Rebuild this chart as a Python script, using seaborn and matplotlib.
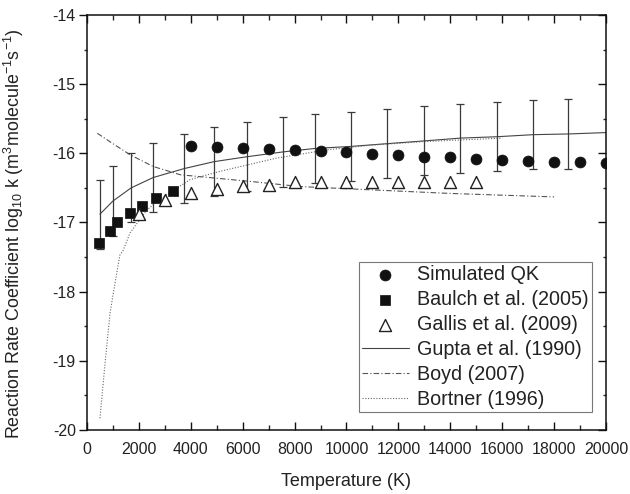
import numpy as np
import pandas as pd
import matplotlib
matplotlib.use("Agg")
import matplotlib.pyplot as plt
from matplotlib.ticker import MultipleLocator
import seaborn as sns

# --- data: temperature (K) and log10 of the reaction rate coefficient ---
qk_T = [4000, 5000, 6000, 7000, 8000, 9000, 10000, 11000, 12000, 13000,
        14000, 15000, 16000, 17000, 18000, 19000, 20000]
qk_logk = [-15.90, -15.91, -15.93, -15.94, -15.95, -15.97, -15.98, -16.01, -16.03,
           -16.05, -16.06, -16.08, -16.10, -16.11, -16.12, -16.13, -16.14]

baulch_T = [480, 890, 1170, 1660, 2120, 2650, 3330]
baulch_logk = [-17.30, -17.12, -17.00, -16.86, -16.76, -16.64, -16.54]

gallis_T = [2000, 3000, 4000, 5000, 6000, 7000, 8000, 9000, 10000, 11000,
            12000, 13000, 14000, 15000]
gallis_logk = [-16.88, -16.67, -16.58, -16.52, -16.47, -16.46, -16.42, -16.42,
               -16.42, -16.41, -16.41, -16.41, -16.41, -16.41]

gupta_T = [500, 1000, 1700, 2550, 3750, 4900, 6150, 7540, 8770, 10170,
           11570, 13000, 14380, 15790, 17200, 18520, 20000]
gupta_logk = [-16.88, -16.69, -16.50, -16.35, -16.22, -16.12, -16.05, -15.98,
              -15.93, -15.90, -15.86, -15.82, -15.78, -15.76, -15.73, -15.72, -15.70]
gupta_err = [0.5] * 16 + [0.0]

boyd_T = [400, 1000, 1660, 2550, 3600, 5000, 6400, 8200, 10500, 14000, 18000]
boyd_logk = [-15.71, -15.86, -16.02, -16.19, -16.31, -16.36, -16.41, -16.48,
             -16.52, -16.58, -16.63]

bortner_T = [500, 700, 890, 1080, 1270, 1400, 1660, 2300, 2940, 3970, 5130,
             6150, 7300, 9230, 11000, 13000, 16000]
bortner_logk = [-19.83, -19.03, -18.31, -17.88, -17.47, -17.40, -17.15, -16.82,
                -16.63, -16.38, -16.26, -16.17, -16.07, -15.95, -15.88, -15.83, -15.78]

x_ticks = [0, 2000, 4000, 6000, 8000, 10000, 12000, 14000, 16000, 18000, 20000]
y_ticks = [-20, -19, -18, -17, -16, -15, -14]

sns.set_theme(style="ticks")
plt.rcParams["font.family"] = ["Liberation Sans", "DejaVu Sans"]
plt.rcParams["mathtext.default"] = "regular"
plt.rcParams["axes.unicode_minus"] = False

ink = "#222222"
fig = plt.figure(figsize=(6.3, 4.94), dpi=100)
ax = fig.add_axes([0.138, 0.1296, 0.824, 0.840])

qk = pd.DataFrame({"T": qk_T, "logk": qk_logk})
ba = pd.DataFrame({"T": baulch_T, "logk": baulch_logk})
ga = pd.DataFrame({"T": gallis_T, "logk": gallis_logk})
gu = pd.DataFrame({"T": gupta_T, "logk": gupta_logk})
bo = pd.DataFrame({"T": boyd_T, "logk": boyd_logk})
bt = pd.DataFrame({"T": bortner_T, "logk": bortner_logk})

# reference curves
sns.lineplot(data=gu, x="T", y="logk", ax=ax, color="#444444", lw=0.8,
             label="Gupta et al. (1990)", sort=False)
sns.lineplot(data=bo, x="T", y="logk", ax=ax, color="#555555", lw=0.8,
             linestyle=(0, (5, 2, 1, 2)), label="Boyd (2007)", sort=False)
sns.lineplot(data=bt, x="T", y="logk", ax=ax, color="#666666", lw=0.8,
             linestyle=(0, (1, 1.5)), label="Bortner (1996)", sort=False)

# uncertainty band of the Gupta fit
ax.errorbar(gupta_T[:-1], gupta_logk[:-1], yerr=gupta_err[:-1], fmt="none",
            ecolor="#3a3a3a", elinewidth=0.9, capsize=2.8, capthick=0.9, zorder=2)

# data points
sns.scatterplot(data=qk, x="T", y="logk", ax=ax, marker="o", s=62, color="#111111",
                edgecolor="#111111", linewidth=0.5, label="Simulated QK", zorder=4)
sns.scatterplot(data=ba, x="T", y="logk", ax=ax, marker="s", s=50, color="#111111",
                edgecolor="#111111", linewidth=0.5, label="Baulch et al. (2005)", zorder=4)
sns.scatterplot(data=ga, x="T", y="logk", ax=ax, marker="^", s=75, facecolor="white",
                edgecolor="#222222", linewidth=1.0, label="Gallis et al. (2009)", zorder=4)

ax.set_xlim(0, 20000)
ax.set_ylim(-20, -14)
ax.set_xticks(x_ticks)
ax.set_yticks(y_ticks)
ax.xaxis.set_minor_locator(MultipleLocator(1000))
ax.yaxis.set_minor_locator(MultipleLocator(0.5))
ax.set_xticklabels([str(v) for v in x_ticks])
ax.set_yticklabels([str(v) for v in y_ticks])

for sp in ax.spines.values():
    sp.set_visible(True)
    sp.set_color("#111111")
    sp.set_linewidth(1.1)

ax.tick_params(axis="x", which="major", direction="in", length=6, width=1.0,
               top=True, labelsize=11.5, colors="#111111", labelcolor=ink, pad=9)
ax.tick_params(axis="x", which="minor", direction="in", length=3.5, width=1.0, top=True)
ax.tick_params(axis="y", which="major", direction="out", length=6, width=1.0,
               labelsize=11.5, colors="#111111", labelcolor=ink, pad=2)
ax.tick_params(axis="y", which="minor", direction="out", length=2.5, width=1.0)
ax.yaxis.set_tick_params(which="both", right=True)
# right side ticks point inward
for t in ax.yaxis.get_major_ticks() + ax.yaxis.get_minor_ticks():
    t.tick2line.set_marker(matplotlib.lines.TICKLEFT)

ax.set_xlabel("Temperature (K)", fontsize=13, color=ink, labelpad=11)
ax.set_ylabel(r"Reaction Rate Coefficient log$_{10}$ k (m$^{3}$molecule$^{-1}$s$^{-1}$)",
              fontsize=12.9, color=ink)
ax.yaxis.set_label_coords(-0.118, 0.472)

handles, labels = ax.get_legend_handles_labels()
order = ["Simulated QK", "Baulch et al. (2005)", "Gallis et al. (2009)",
         "Gupta et al. (1990)", "Boyd (2007)", "Bortner (1996)"]
hmap = dict(zip(labels, handles))
leg = ax.legend([hmap[k] for k in order], order, loc="lower right",
                bbox_to_anchor=(0.972, 0.044), fontsize=14.2, frameon=True,
                fancybox=False, edgecolor="#777777", framealpha=1,
                handlelength=2.4, handletextpad=0.4, labelspacing=0.3,
                borderpad=0.15, borderaxespad=0)
leg.get_frame().set_linewidth(0.8)
for txt in leg.get_texts():
    txt.set_color(ink)

fig.savefig("out.png", dpi=100)
